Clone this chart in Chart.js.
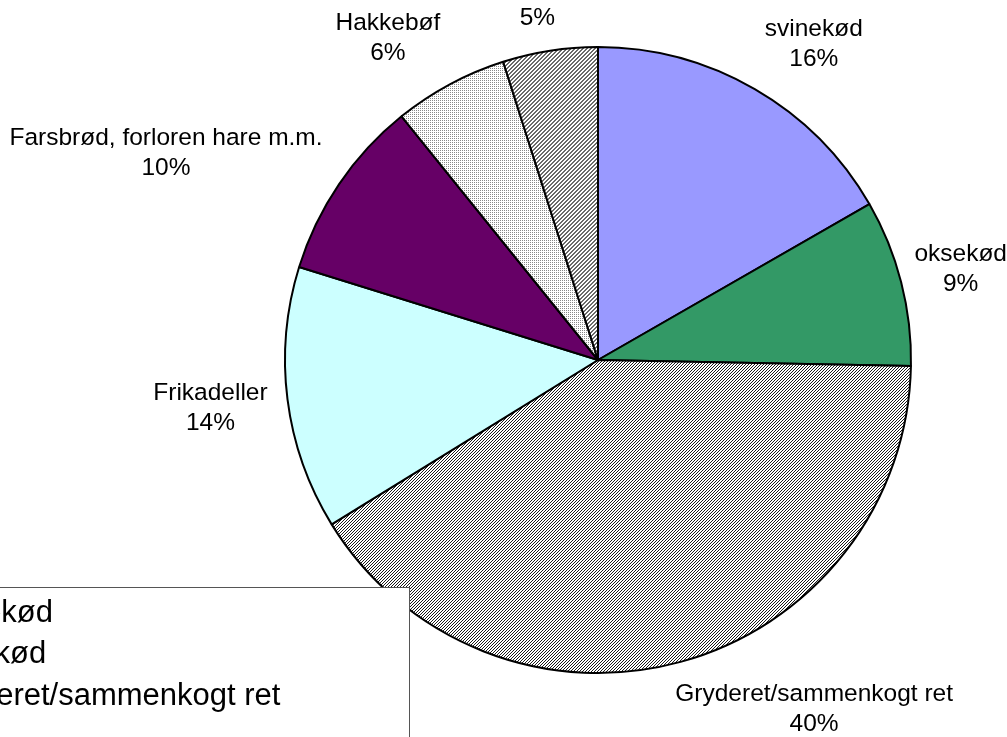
<!DOCTYPE html>
<html><head><meta charset="utf-8">
<script src="https://cdn.jsdelivr.net/npm/chart.js@4"></script>
<style>html,body{margin:0;padding:0;background:#fff;overflow:hidden}#wrap{width:1007px;height:737px;position:relative}</style>
</head><body><div id="wrap"><canvas id="c" width="1007" height="737"></canvas></div>
<script>
// ---- data ----
const categories = ['svinekød', 'oksekød', 'Gryderet/sammenkogt ret', 'Frikadeller', 'Farsbrød, forloren hare m.m.', 'Hakkebøf', ''];
const shares = [16.7, 8.6, 40.9, 13.6, 9.4, 5.9, 4.9];
const percentLabels = ['16%', '9%', '40%', '14%', '10%', '6%', '5%'];

// ---- styles ----
function makePattern(w, h, pixels, color) {
  const c = document.createElement('canvas');
  c.width = w; c.height = h;
  const g = c.getContext('2d');
  g.fillStyle = '#fff'; g.fillRect(0, 0, w, h);
  g.fillStyle = color;
  pixels.forEach(([x, y]) => g.fillRect(x, y, 1, 1));
  return g.createPattern(c, 'repeat');
}
const hatchWide = makePattern(3, 3, [[2,0],[1,1],[0,2]], '#1a1a1a');
const hatchDense = makePattern(4, 4, [[3,0],[2,0],[2,1],[1,1],[1,2],[0,2],[0,3],[3,3]], '#6a6a6a');
const dots = makePattern(2, 2, [[0,0]], '#888');
const sliceFills = ['#9999FF', '#339966', hatchWide, '#CCFFFF', '#660066', dots, hatchDense];

const clamp1 = v => Math.max(-1, Math.min(1, v));

const sliceLabels = {
  id: 'sliceLabels',
  afterDatasetsDraw(chart) {
    const ctx = chart.ctx;
    const meta = chart.getDatasetMeta(0);
    ctx.save();
    ctx.font = '24.5px "Liberation Sans", Arial, sans-serif';
    ctx.fillStyle = '#000';
    ctx.textAlign = 'center';
    ctx.textBaseline = 'middle';
    const lh = 30;
    meta.data.forEach((arc, i) => {
      const p = arc.getProps(['x', 'y', 'startAngle', 'endAngle', 'outerRadius'], true);
      const a = (p.startAngle + p.endAngle) / 2;
      const ux = Math.cos(a), uy = Math.sin(a);
      const lines = categories[i] ? [categories[i], percentLabels[i]] : [percentLabels[i]];
      const w = Math.max(...lines.map(l => ctx.measureText(l).width));
      const h = lines.length * lh;
      const r = p.outerRadius + 20;
      let cx = p.x + ux * r + (w / 2) * clamp1(3.5 * ux);
      let cy = p.y + uy * r + (h / 2) * clamp1(1.3 * uy);
      cx = Math.min(Math.max(cx, w / 2), chart.width - w / 2);
      cy = Math.min(Math.max(cy, h / 2), chart.height - h / 2);
      lines.forEach((l, j) => ctx.fillText(l, cx, cy + 2 + (j - (lines.length - 1) / 2) * lh));
    });
    ctx.restore();
  }
};

const cutLegend = {
  id: 'cutLegend',
  afterDraw(chart) {
    const ctx = chart.ctx;
    ctx.save();
    const left = -140.5, top = 587.5, right = 409.5, rowH = 41.7, firstBase = 621.5, textX = -71;
    const boxH = categories.length * rowH + 30;
    ctx.fillStyle = '#fff';
    ctx.fillRect(left, top, right - left, boxH);
    ctx.strokeStyle = '#555';
    ctx.lineWidth = 1;
    ctx.strokeRect(left, top, right - left, boxH);
    ctx.font = '31px "Liberation Sans", Arial, sans-serif';
    ctx.textAlign = 'left';
    ctx.textBaseline = 'alphabetic';
    categories.forEach((c, i) => {
      const by = firstBase + i * rowH;
      if (by + 8 > chart.height) return; // entries that do not fit are dropped
      ctx.fillStyle = sliceFills[i];
      ctx.fillRect(-105, by - 20, 20, 20);
      ctx.strokeStyle = '#000';
      ctx.strokeRect(-105, by - 20, 20, 20);
      ctx.fillStyle = '#000';
      ctx.fillText(c, textX, by);
    });
    ctx.restore();
  }
};

new Chart(document.getElementById('c'), {
  type: 'pie',
  data: {
    labels: categories,
    datasets: [{
      data: shares,
      backgroundColor: sliceFills,
      borderColor: '#000',
      borderWidth: 2,
      hoverOffset: 0,
      hoverBorderWidth: 2
    }]
  },
  options: {
    responsive: false,
    animation: false,
    radius: 313,
    events: [],
    layout: { padding: { left: 189, right: 0, top: 0, bottom: 17 } },
    plugins: { legend: { display: false }, tooltip: { enabled: false }, title: { display: false } }
  },
  plugins: [sliceLabels, cutLegend]
});
</script>
</body></html>
